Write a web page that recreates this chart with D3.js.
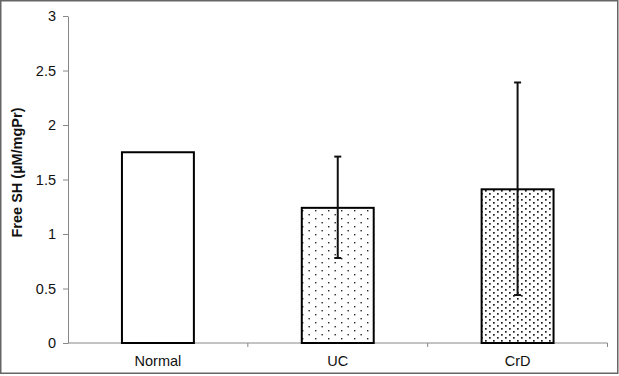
<!DOCTYPE html>
<html>
<head>
<meta charset="utf-8">
<script src="https://cdn.jsdelivr.net/npm/d3@7"></script>
<style>
  body { margin: 0; background: #fff; }
  svg { display: block; font-family: "Liberation Sans", Arial, sans-serif; }
</style>
</head>
<body>
<div id="chart"></div>
<script>
/* DATA */
const groups = ["Normal", "UC", "CrD"];
const means = [1.75, 1.24, 1.41];
const errLow = [null, 0.78, 0.44];
const errHigh = [null, 1.71, 2.39];
const yTicks = [0, 0.5, 1, 1.5, 2, 2.5, 3];

/* CONSTANTS */
const width = 619,
  height = 376,
  margin = { top: 16, bottom: 33, left: 68, right: 11 };

const svg = d3.select("#chart").append("svg")
  .attr("width", width)
  .attr("height", height);

// patterns for dotted fills
const defs = svg.append("defs");
const sparse = defs.append("pattern")
  .attr("id", "dotsSparse")
  .attr("patternUnits", "userSpaceOnUse")
  .attr("width", 13).attr("height", 8);
sparse.append("rect").attr("width", 13).attr("height", 8).attr("fill", "#fff");
sparse.append("rect").attr("x", 3).attr("y", 2).attr("width", 1.4).attr("height", 1.4).attr("fill", "#222");
sparse.append("rect").attr("x", 9.5).attr("y", 6).attr("width", 1.4).attr("height", 1.4).attr("fill", "#222");

const dense = defs.append("pattern")
  .attr("id", "dotsDense")
  .attr("patternUnits", "userSpaceOnUse")
  .attr("width", 8).attr("height", 6);
dense.append("rect").attr("width", 8).attr("height", 6).attr("fill", "#fff");
dense.append("rect").attr("x", 1).attr("y", 1).attr("width", 1.7).attr("height", 1.7).attr("fill", "#222");
dense.append("rect").attr("x", 5).attr("y", 4).attr("width", 1.7).attr("height", 1.7).attr("fill", "#222");

const fills = ["#fff", "url(#dotsSparse)", "url(#dotsDense)"];

// outer frame
svg.append("rect")
  .attr("x", 0.75).attr("y", 0.75)
  .attr("width", 617).attr("height", 372.5)
  .attr("fill", "none")
  .attr("stroke", "#666")
  .attr("stroke-width", 1.5);

/* SCALES */
const xScale = d3.scaleBand()
  .domain(groups)
  .range([margin.left, width - margin.right - 0.5])
  .paddingInner(0.6)
  .paddingOuter(0.3);

const yScale = d3.scaleLinear()
  .domain([0, 3])
  .range([height - margin.bottom, margin.top]);

/* AXES */
const yAxis = d3.axisLeft(yScale)
  .tickValues(yTicks)
  .tickFormat(d3.format("~g"))
  .tickSize(5)
  .tickSizeOuter(0);

const gy = svg.append("g")
  .attr("transform", `translate(${margin.left},0)`)
  .call(yAxis);
gy.select(".domain").attr("stroke", "#888");
gy.selectAll(".tick line").attr("stroke", "#888");
gy.selectAll(".tick text")
  .attr("font-size", 14.5)
  .attr("fill", "#111")
  .attr("x", -12);

// x axis line with ticks at category boundaries
const x0 = margin.left, x1 = width - margin.right - 0.5;
const y0 = yScale(0);
svg.append("line")
  .attr("x1", x0).attr("x2", x1)
  .attr("y1", y0).attr("y2", y0)
  .attr("stroke", "#888");
const bounds = d3.range(groups.length + 1).map(i => x0 + i * (x1 - x0) / groups.length);
svg.selectAll(".xtick")
  .data(bounds.slice(1))
  .join("line")
  .attr("class", "xtick")
  .attr("x1", d => d).attr("x2", d => d)
  .attr("y1", y0).attr("y2", y0 + 4)
  .attr("stroke", "#888");

svg.selectAll(".xlabel")
  .data(groups)
  .join("text")
  .attr("class", "xlabel")
  .attr("x", d => xScale(d) + xScale.bandwidth() / 2)
  .attr("y", y0 + 23)
  .attr("text-anchor", "middle")
  .attr("font-size", 14.5)
  .attr("fill", "#111")
  .text(d => d);

// y label
svg.append("text")
  .attr("transform", `translate(22,${(yScale(0) + yScale(3)) / 2 - 7}) rotate(-90)`)
  .attr("text-anchor", "middle")
  .attr("font-size", 14.5)
  .attr("font-weight", "bold")
  .attr("fill", "#111")
  .text("Free SH (µM/mgPr)");

/* BARS */
svg.selectAll(".bar")
  .data(groups)
  .join("rect")
  .attr("class", "bar")
  .attr("x", d => xScale(d))
  .attr("y", (d, i) => yScale(means[i]))
  .attr("width", xScale.bandwidth())
  .attr("height", (d, i) => yScale(0) - yScale(means[i]))
  .attr("fill", (d, i) => fills[i])
  .attr("stroke", "#000")
  .attr("stroke-width", 2);

/* ERROR BARS */
const errData = groups.map((g, i) => ({ g, lo: errLow[i], hi: errHigh[i] }))
  .filter(d => d.lo !== null);
const eb = svg.selectAll(".err")
  .data(errData)
  .join("g")
  .attr("class", "err")
  .attr("transform", d => `translate(${xScale(d.g) + xScale.bandwidth() / 2},0)`);
eb.append("line")
  .attr("y1", d => yScale(d.lo)).attr("y2", d => yScale(d.hi))
  .attr("stroke", "#111").attr("stroke-width", 2);
eb.append("line")
  .attr("x1", -3.5).attr("x2", 3.5)
  .attr("y1", d => yScale(d.hi)).attr("y2", d => yScale(d.hi))
  .attr("stroke", "#111").attr("stroke-width", 2);
eb.append("line")
  .attr("x1", -3.5).attr("x2", 3.5)
  .attr("y1", d => yScale(d.lo)).attr("y2", d => yScale(d.lo))
  .attr("stroke", "#111").attr("stroke-width", 2);
</script>
</body>
</html>
